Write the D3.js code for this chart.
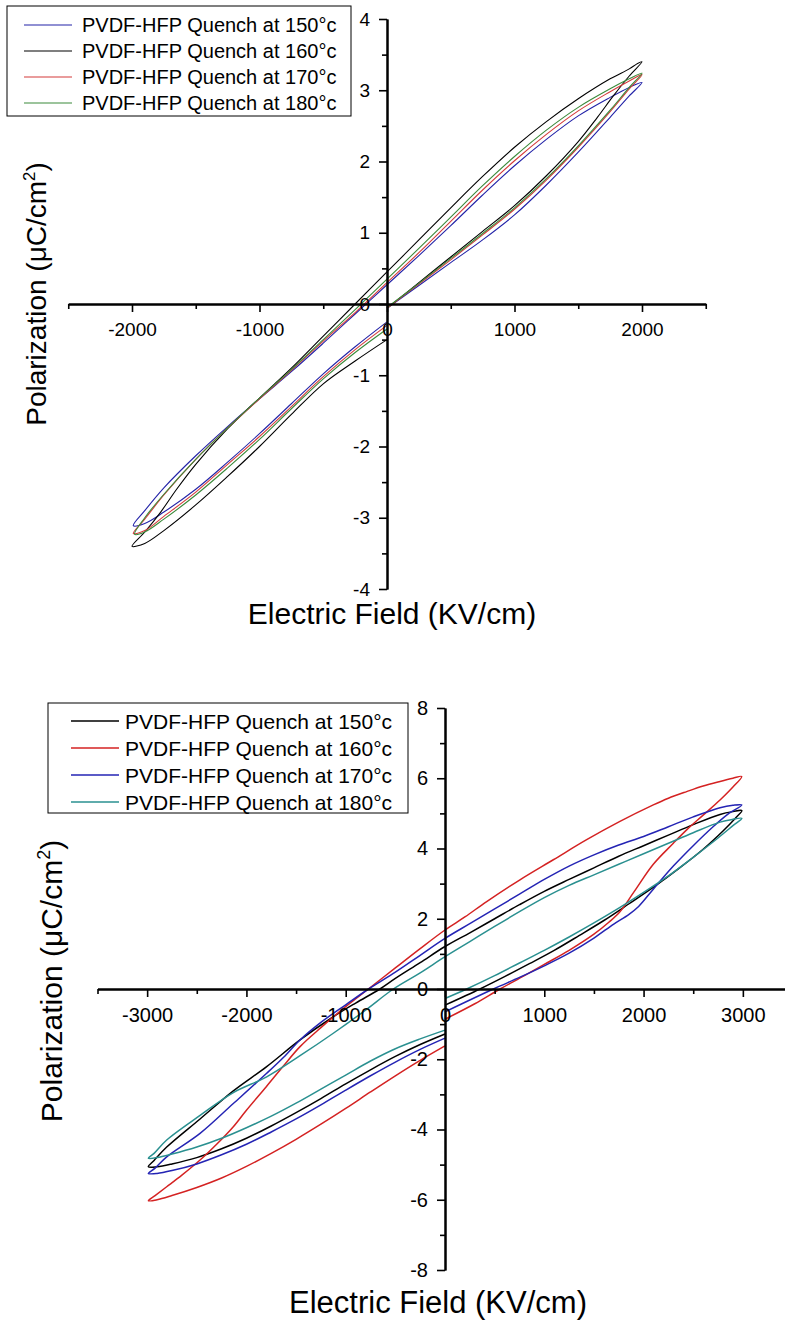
<!DOCTYPE html>
<html>
<head>
<meta charset="utf-8">
<title>PVDF-HFP P-E loops</title>
<script src="https://d3js.org/d3.v7.min.js"></script>
<style>
  body { margin: 0; background: #fff; font-family: "Liberation Sans", Arial, sans-serif; }
  svg { display: block; }
  .axis .domain { stroke: #000; stroke-width: 2; }
  .axis line { stroke: #000; stroke-width: 1.6; }
  .axis text { fill: #000; font-family: "Liberation Sans", Arial, sans-serif; }
  .loop { fill: none; }
</style>
</head>
<body>
<div id="chart"></div>
<script>
// ---------- top chart data (E in KV/cm, P in uC/cm2) ----------
const topLegend = ["PVDF-HFP Quench at 150\u00b0c", "PVDF-HFP Quench at 160\u00b0c",
                   "PVDF-HFP Quench at 170\u00b0c", "PVDF-HFP Quench at 180\u00b0c"];
const topColors = ["#2323a8", "#000000", "#d43a3a", "#3a8a3a"];
const topXTicks = [-2000, -1000, 0, 1000, 2000];
const topXMinor = [-2500, -1500, -500, 500, 1500, 2500];
const topYTicks = [-4, -3, -2, -1, 0, 1, 2, 3, 4];
const topYMinor = [-3.5, -2.5, -1.5, -0.5, 0.5, 1.5, 2.5, 3.5];

const top150 = [[0,-0.06],[250,0.26],[500,0.58],[750,0.9],[1000,1.25],[1250,1.67],[1500,2.13],[1750,2.62],[1900,2.92],[2000,3.11],
  [1900,3.04],[1750,2.9],[1500,2.64],[1250,2.31],[1000,1.94],[750,1.53],[500,1.1],[250,0.68],[0,0.27],[-250,-0.14],[-500,-0.55],
  [-750,-0.95],[-1000,-1.33],[-1250,-1.72],[-1500,-2.13],[-1750,-2.58],[-1900,-2.9],[-1990,-3.11],
  [-1900,-3.08],[-1750,-2.92],[-1500,-2.6],[-1250,-2.22],[-1000,-1.82],[-750,-1.4],[-500,-0.98],[-250,-0.6],[0,-0.25]];
const top160 = [[0,-0.06],[250,0.3],[500,0.66],[750,1.02],[1000,1.38],[1250,1.8],[1500,2.28],[1650,2.62],[1775,2.92],[1900,3.2],[2000,3.4],
  [1960,3.37],[1900,3.3],[1750,3.16],[1500,2.88],[1250,2.56],[1000,2.2],[750,1.79],[500,1.35],[250,0.9],[0,0.45],[-250,0.0],[-500,-0.45],
  [-750,-0.9],[-1000,-1.32],[-1250,-1.75],[-1500,-2.25],[-1650,-2.6],[-1775,-2.92],[-1900,-3.2],[-2000,-3.4],
  [-1900,-3.36],[-1750,-3.18],[-1500,-2.82],[-1250,-2.42],[-1000,-2.0],[-750,-1.55],[-500,-1.12],[-250,-0.8],[0,-0.5]];
const top170 = [[0,-0.06],[250,0.28],[500,0.62],[750,0.97],[1000,1.33],[1250,1.74],[1500,2.2],[1750,2.7],[1900,3.02],[2000,3.22],
  [1900,3.13],[1750,2.98],[1500,2.71],[1250,2.38],[1000,2.01],[750,1.6],[500,1.16],[250,0.72],[0,0.3],[-250,-0.12],[-500,-0.52],
  [-750,-0.93],[-1000,-1.33],[-1250,-1.74],[-1500,-2.18],[-1750,-2.68],[-1900,-3.02],[-1990,-3.22],
  [-1900,-3.18],[-1750,-2.98],[-1500,-2.64],[-1250,-2.25],[-1000,-1.86],[-750,-1.44],[-500,-1.02],[-250,-0.64],[0,-0.3]];
const top180 = [[0,-0.05],[250,0.29],[500,0.64],[750,0.99],[1000,1.35],[1250,1.76],[1500,2.22],[1750,2.72],[1900,3.04],[2000,3.24],
  [1900,3.16],[1750,3.02],[1500,2.76],[1250,2.44],[1000,2.07],[750,1.66],[500,1.22],[250,0.78],[0,0.35],[-250,-0.08],[-500,-0.5],
  [-750,-0.92],[-1000,-1.32],[-1250,-1.74],[-1500,-2.18],[-1750,-2.67],[-1900,-3.0],[-1980,-3.23],
  [-1900,-3.2],[-1750,-3.02],[-1500,-2.68],[-1250,-2.3],[-1000,-1.9],[-750,-1.47],[-500,-1.05],[-250,-0.68],[0,-0.35]];

// ---------- bottom chart data ----------
const botLegend = ["PVDF-HFP Quench at 150\u00b0c", "PVDF-HFP Quench at 160\u00b0c",
                   "PVDF-HFP Quench at 170\u00b0c", "PVDF-HFP Quench at 180\u00b0c"];
const botColors = ["#000000", "#d42222", "#2424b4", "#2a9090"];
const botXTicks = [-3000, -2000, -1000, 0, 1000, 2000, 3000];
const botXMinor = [-3500, -2500, -1500, -500, 500, 1500, 2500, 3500];
const botYTicks = [-8, -6, -4, -2, 0, 2, 4, 6, 8];
const botYMinor = [-7, -5, -3, -1, 1, 3, 5, 7];

const bot150 = [[0,-0.46],[352,0],[600,0.35],[850,0.72],[1100,1.1],[1350,1.52],[1600,1.95],[1850,2.42],[2100,2.9],[2350,3.42],[2600,3.98],[2800,4.5],[2920,4.85],[2990,5.08],
  [2900,5.05],[2770,4.97],[2500,4.68],[2250,4.38],[2000,4.08],[1750,3.78],[1500,3.45],[1250,3.12],[1000,2.78],[750,2.4],[500,2.0],[250,1.6],[0,1.21],
  [-250,0.75],[-500,0.3],[-655,0],[-900,-0.4],[-1125,-0.79],[-1460,-1.45],[-1796,-2.21],[-2132,-2.9],[-2467,-3.7],[-2803,-4.5],[-2930,-4.88],[-2988,-5.06],
  [-2900,-5.06],[-2750,-4.98],[-2500,-4.8],[-2250,-4.55],[-2000,-4.25],[-1750,-3.9],[-1500,-3.52],[-1250,-3.12],[-1000,-2.7],[-750,-2.3],[-500,-1.92],[-250,-1.58],[0,-1.28]];
const bot160 = [[0,-0.86],[300,-0.42],[554,0],[800,0.38],[1000,0.7],[1250,1.1],[1500,1.56],[1650,1.9],[1762,2.2],[1900,2.75],[2098,3.55],[2300,4.15],[2434,4.53],[2600,4.95],[2770,5.38],[2900,5.75],[2988,6.05],
  [2900,6.0],[2770,5.91],[2600,5.78],[2434,5.62],[2250,5.43],[2098,5.24],[1762,4.77],[1427,4.25],[1091,3.68],[755,3.11],[420,2.49],[200,2.05],[0,1.68],
  [-250,1.15],[-500,0.6],[-772,0],[-1000,-0.5],[-1250,-1.1],[-1460,-1.64],[-1630,-2.2],[-1800,-2.78],[-2000,-3.45],[-2132,-3.92],[-2300,-4.42],[-2467,-4.87],[-2650,-5.3],[-2803,-5.63],[-2920,-5.88],[-2988,-6.03],
  [-2900,-6.0],[-2750,-5.88],[-2500,-5.65],[-2250,-5.38],[-2000,-5.05],[-1750,-4.68],[-1500,-4.28],[-1250,-3.85],[-1000,-3.4],[-750,-2.93],[-500,-2.47],[-250,-2.03],[0,-1.62]];
const bot170 = [[0,-0.65],[487,0],[750,0.33],[1000,0.66],[1250,1.02],[1500,1.45],[1700,1.85],[1850,2.12],[1950,2.35],[2100,2.85],[2300,3.5],[2500,4.08],[2700,4.62],[2850,4.98],[2990,5.24],
  [2900,5.23],[2770,5.16],[2500,4.9],[2250,4.62],[2000,4.34],[1750,4.1],[1500,3.82],[1250,3.5],[1000,3.12],[750,2.7],[500,2.28],[250,1.86],[0,1.44],
  [-250,0.96],[-500,0.48],[-770,0],[-1000,-0.45],[-1250,-0.95],[-1460,-1.45],[-1628,-1.95],[-1796,-2.4],[-2132,-3.26],[-2467,-4.11],[-2803,-4.78],[-2920,-5.1],[-2988,-5.25],
  [-2900,-5.25],[-2750,-5.17],[-2500,-4.98],[-2250,-4.72],[-2000,-4.42],[-1750,-4.07],[-1500,-3.7],[-1250,-3.3],[-1000,-2.88],[-750,-2.47],[-500,-2.08],[-250,-1.72],[0,-1.4]];
const bot180 = [[0,-0.27],[218,0],[500,0.38],[750,0.74],[1000,1.1],[1250,1.48],[1500,1.88],[1750,2.3],[2000,2.75],[2250,3.22],[2500,3.75],[2750,4.3],[2900,4.65],[2990,4.86],
  [2900,4.83],[2770,4.75],[2500,4.45],[2250,4.15],[2000,3.85],[1750,3.55],[1500,3.25],[1250,2.95],[1000,2.6],[750,2.2],[500,1.78],[250,1.35],[0,0.92],
  [-250,0.46],[-520,0],[-800,-0.6],[-1125,-1.26],[-1460,-1.9],[-1796,-2.5],[-2132,-2.95],[-2467,-3.6],[-2803,-4.3],[-2930,-4.68],[-2988,-4.82],
  [-2900,-4.8],[-2750,-4.7],[-2500,-4.5],[-2250,-4.25],[-2000,-3.95],[-1750,-3.62],[-1500,-3.25],[-1250,-2.85],[-1000,-2.45],[-750,-2.05],[-500,-1.7],[-250,-1.42],[0,-1.17]];

const W = 785, H = 1321;
const svg = d3.select("#chart").append("svg").attr("width", W).attr("height", H);

function drawChart(cfg) {
  const x = d3.scaleLinear().domain(cfg.xDomain).range(cfg.xRange);
  const y = d3.scaleLinear().domain(cfg.yDomain).range(cfg.yRange);
  const g = svg.append("g");
  const fmt = d => String(d);

  // loops
  const line = d3.line().x(d => x(d[0])).y(d => y(d[1])).curve(d3.curveCatmullRom.alpha(0.5));
  cfg.series.forEach((s, i) => {
    g.append("path").attr("class", "loop").attr("d", line(s))
      .attr("stroke", cfg.colors[i]).attr("stroke-width", cfg.lineWidth);
  });

  // x axis through P = 0
  g.append("g").attr("class", "axis").attr("transform", `translate(0,${y(0)})`)
    .call(d3.axisBottom(x).tickValues(cfg.xMinor).tickSize(5).tickSizeOuter(0).tickFormat(""));
  g.append("g").attr("class", "axis").attr("transform", `translate(0,${y(0)})`)
    .call(d3.axisBottom(x).tickValues(cfg.xTicks).tickSize(8).tickSizeOuter(0).tickPadding(11).tickFormat(fmt))
    .selectAll("text").attr("font-size", cfg.tickFont);

  // y axis through E = 0
  g.append("g").attr("class", "axis").attr("transform", `translate(${x(0)},0)`)
    .call(d3.axisLeft(y).tickValues(cfg.yMinor).tickSize(5).tickSizeOuter(0).tickFormat(""));
  g.append("g").attr("class", "axis").attr("transform", `translate(${x(0)},0)`)
    .call(d3.axisLeft(y).tickValues(cfg.yTicks).tickSize(8).tickSizeOuter(0).tickPadding(9).tickFormat(fmt))
    .selectAll("text").attr("font-size", cfg.tickFont);

  // axis titles
  g.append("text").attr("x", cfg.xTitle[0]).attr("y", cfg.xTitle[1])
    .attr("text-anchor", "middle").attr("font-size", cfg.titleFont).text("Electric Field (KV/cm)");
  const yf = cfg.yTitleFont;
  const yt = g.append("text")
    .attr("transform", `translate(${cfg.yTitle[0]},${cfg.yTitle[1]}) rotate(-90)`)
    .attr("text-anchor", "middle").attr("font-size", yf);
  yt.append("tspan").text("Polarization (\u03bcC/cm");
  yt.append("tspan").attr("font-size", yf * 0.6).attr("dy", -yf * 0.4).text("2");
  yt.append("tspan").attr("dy", yf * 0.4).text(")");

  // legend
  const lb = cfg.legendBox;
  const lg = g.append("g");
  lg.append("rect").attr("x", lb.x).attr("y", lb.y).attr("width", lb.w).attr("height", lb.h)
    .attr("fill", "#fff").attr("stroke", "#000").attr("stroke-width", 1);
  cfg.legend.forEach((name, i) => {
    const ly = lb.row0 + i * lb.step;
    lg.append("line").attr("x1", lb.x + lb.l1).attr("x2", lb.x + lb.l2).attr("y1", ly).attr("y2", ly)
      .attr("stroke", cfg.colors[i]).attr("stroke-width", cfg.lineWidth);
    lg.append("text").attr("x", lb.x + lb.tx).attr("y", ly).attr("dy", "0.36em")
      .attr("font-size", lb.font).text(name);
  });
}

drawChart({
  xDomain: [-2500, 2500], xRange: [68.25, 705.75],
  yDomain: [-4, 4], yRange: [589, 19],
  xTicks: topXTicks, xMinor: topXMinor, yTicks: topYTicks, yMinor: topYMinor,
  series: [top150, top160, top170, top180], colors: topColors, legend: topLegend,
  lineWidth: 1.1, tickFont: 19, titleFont: 30, yTitleFont: 28,
  xTitle: [392, 624], yTitle: [46, 294],
  legendBox: { x: 7, y: 6, w: 344, h: 110, row0: 25, step: 26, l1: 17, l2: 65, tx: 75, font: 20 }
});

drawChart({
  xDomain: [-3500, 3500], xRange: [97.5, 792.5],
  yDomain: [-8, 8], yRange: [1270, 708],
  xTicks: botXTicks, xMinor: botXMinor, yTicks: botYTicks, yMinor: botYMinor,
  series: [bot150, bot160, bot170, bot180], colors: botColors, legend: botLegend,
  lineWidth: 1.5, tickFont: 20, titleFont: 31, yTitleFont: 30,
  xTitle: [438, 1313], yTitle: [62, 981],
  legendBox: { x: 48, y: 703, w: 360, h: 110, row0: 721, step: 27, l1: 23, l2: 71, tx: 77, font: 21 }
});
</script>
</body>
</html>
